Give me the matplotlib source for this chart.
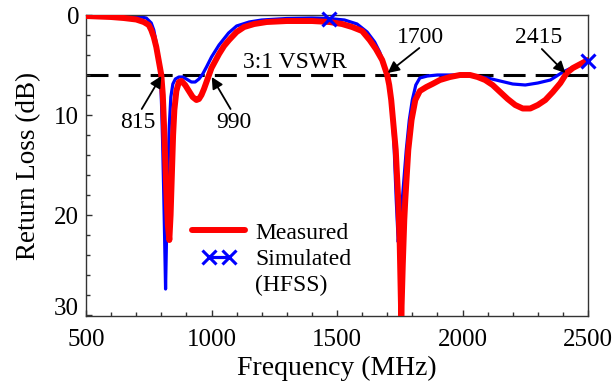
import matplotlib
matplotlib.use("Agg")
import matplotlib.pyplot as plt
from matplotlib.lines import Line2D
from matplotlib.legend_handler import HandlerLine2D

plt.rcParams['font.family'] = ['Liberation Serif', 'DejaVu Serif']
plt.rcParams['mathtext.fontset'] = 'stix'

# Measured return loss (dB) vs frequency (MHz)
meas_f = [500, 600, 650, 700, 730, 750, 760, 770, 780, 790, 800, 806, 810, 815, 820,
          826, 832, 837, 842, 847, 852, 860, 870, 880, 895, 910, 925, 940, 950, 960,
          970, 980, 990, 1000, 1015, 1030, 1050, 1070, 1100, 1130, 1170, 1220, 1300,
          1400, 1470, 1520, 1560, 1600, 1630, 1655, 1680, 1700, 1708, 1716, 1725,
          1734, 1744, 1750, 1756, 1762, 1768, 1772, 1778, 1784, 1797, 1812, 1830,
          1856, 1880, 1910, 1950, 1990, 2030, 2060, 2090, 2120, 2150, 2180, 2210,
          2240, 2270, 2300, 2330, 2360, 2390, 2415, 2440, 2470, 2500]
meas_rl = [0.1, 0.2, 0.3, 0.45, 0.7, 1.0, 1.5, 2.2, 3.2, 4.6, 6.0, 8.0, 10.5, 14.0, 17.5,
           21.0, 22.5, 20.0, 16.0, 12.0, 9.5, 7.6, 6.7, 6.6, 7.0, 7.6, 8.2, 8.5, 8.4, 8.0,
           7.4, 6.7, 6.0, 5.3, 4.6, 3.9, 3.1, 2.5, 1.7, 1.2, 0.9, 0.7, 0.6,
           0.6, 0.7, 0.9, 1.2, 1.6, 2.5, 3.4, 4.5, 6.0, 7.0, 8.5, 11.0,
           13.5, 18.5, 23.0, 30.3, 25.0, 20.5, 18.5, 16.0, 13.5, 10.5, 8.5, 7.6,
           7.2, 6.9, 6.5, 6.2, 6.0, 6.0, 6.2, 6.5, 7.0, 7.7, 8.4, 9.0,
           9.35, 9.35, 9.0, 8.5, 7.7, 6.8, 5.8, 5.3, 4.9, 4.5]

# Simulated (HFSS) return loss (dB) vs frequency (MHz)
sim_f = [500, 600, 700, 740, 760, 770, 780, 790, 797, 801, 805, 809, 813, 817, 821,
         826, 832, 838, 846, 856, 870, 885, 900, 920, 935, 950, 965, 980, 1000, 1030,
         1068, 1100, 1150, 1200, 1300, 1400, 1470, 1530, 1580, 1620, 1650, 1670,
         1685, 1700, 1710, 1716, 1722, 1728, 1736, 1744, 1752, 1760, 1768, 1776,
         1788, 1800, 1814, 1830, 1860, 1900, 1950, 2000, 2050, 2100, 2150, 2200,
         2250, 2300, 2350, 2400, 2450, 2500]
sim_rl = [0.05, 0.05, 0.1, 0.3, 0.8, 1.5, 2.8, 4.5, 6.2, 9.0, 12.5, 17.0, 22.0, 27.4, 22.0,
          16.0, 11.0, 8.2, 6.9, 6.4, 6.2, 6.2, 6.4, 6.7, 6.7, 6.4, 5.9, 5.2, 4.2, 3.0,
          1.8, 1.1, 0.7, 0.5, 0.35, 0.3, 0.35, 0.5, 0.9, 1.7, 2.7, 3.7,
          4.7, 6.0, 7.3, 8.5, 10.5, 13.5, 18.5, 22.7, 20.5, 18.5, 16.0, 13.5,
          10.5, 8.5, 7.0, 6.3, 6.1, 6.0, 6.0, 6.0, 6.1, 6.3, 6.6, 6.9,
          7.0, 6.8, 6.5, 5.7, 5.1, 4.6]
sim_marker_f = [1470, 2500]

vswr_level = 6.0
x_ticks = [500, 1000, 1500, 2000, 2500]
y_ticks = [0, 10, 20, 30]
annotations = [  # text, text pos (f, dB), arrow tail (f, dB), arrow tip (f, dB)
    ("815", (708, 10.7), (722, 9.4), (800, 6.1)),
    ("990", (1088, 10.7), (1076, 9.4), (1001, 6.2)),
    ("1700", (1832, 2.2), (1828, 3.3), (1702, 5.8)),
    ("2415", (2304, 2.2), (2316, 3.4), (2410, 5.8)),
]

fig = plt.figure(figsize=(6.16, 3.87), dpi=100)
ax = fig.add_axes([86/616, 1-316/387, (588-86)/616, (316-15)/387])

ax.axhline(vswr_level, color='black', lw=2.2, dashes=(7.2, 3.3), zorder=1)

ax.plot(sim_f, sim_rl, color='#0000ff', lw=2.3, zorder=2)
mk = [sim_f.index(f) for f in sim_marker_f]
ax.plot([sim_f[i] for i in mk], [sim_rl[i] for i in mk], linestyle='none',
        marker='x', ms=10, mew=2.2, color='#0000ff', clip_on=False, zorder=4)
ax.plot(meas_f, meas_rl, color='#ff0000', lw=4.3, solid_capstyle='round',
        solid_joinstyle='round', zorder=3)

ax.text(1332, 4.7, "3:1 VSWR", fontsize=17, ha='center', va='center')
for txt, tpos, tail, tip in annotations:
    ax.text(tpos[0], tpos[1], txt, fontsize=17, ha='center', va='center')
    ax.annotate('', xy=tip, xytext=tail,
                arrowprops=dict(arrowstyle='-|>', color='black', lw=1.3,
                                mutation_scale=17, shrinkA=0, shrinkB=0))

ax.set_xlim(500, 2500)
ax.set_ylim(30.1, 0)
ax.set_xticks(x_ticks, labels=[str(v) for v in x_ticks])
ax.set_xticks(range(600, 2500, 100), minor=True)
ax.set_yticks(y_ticks, labels=[str(v) for v in y_ticks])
ax.set_yticks(range(2, 30, 2), minor=True)
ax.tick_params(which='both', direction='in', top=False, right=False,
               labelsize=18, color='#333333')
ax.tick_params(axis='x', pad=9)
ax.tick_params(axis='y', pad=5)
ax.tick_params(which='major', length=4.5, width=1)
ax.tick_params(which='minor', length=3, width=1)
ax.yaxis.get_major_ticks()[-1].label1.set_va('baseline')
for s in ax.spines.values():
    s.set_color('#333333')
    s.set_linewidth(1)

ax.set_xlabel("Frequency (MHz)", fontsize=20, labelpad=4)
ax.set_ylabel("Return Loss (dB)", fontsize=19.5, labelpad=9)

h_meas = Line2D([], [], color='#ff0000', lw=4.3, solid_capstyle='round')
h_sim = Line2D([], [], color='#0000ff', lw=2.3, marker='x', ms=10, mew=2.2)
h_blank = Line2D([], [], color='none', lw=0)
leg = fig.legend([h_meas, h_sim, h_blank], ["Measured", "Simulated", "(HFSS)"],
                 loc='upper left', bbox_to_anchor=(192/616, 1-222/387),
                 frameon=False, fontsize=17, handlelength=2.25, handletextpad=0.42,
                 labelspacing=0.2, borderpad=0, borderaxespad=0,
                 handler_map={h_sim: HandlerLine2D(numpoints=2, marker_pad=0.7)})

fig.savefig("out.png", dpi=100)
